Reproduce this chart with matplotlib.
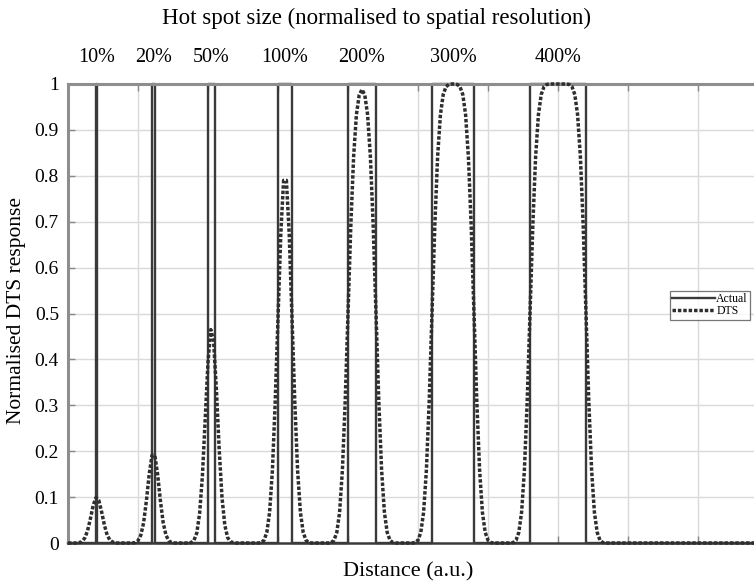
import numpy as np
import matplotlib
matplotlib.use("Agg")
import matplotlib.pyplot as plt
from matplotlib.transforms import blended_transform_factory

# ---- data ----
spot_labels = ["10%", "20%", "50%", "100%", "200%", "300%", "400%"]
spot_start = [2.0, 6.0, 10.0, 15.0, 20.0, 26.0, 33.0]
spot_end = [2.1, 6.2, 10.5, 16.0, 22.0, 29.0, 37.0]
x_min, x_max = 0.0, 49.0

# DTS response read per hot spot, sampled every 0.2 a.u. starting at dts_start
dts_step = 0.2
dts_start = [0.4, 4.4, 8.4, 13.4, 18.4, 24.4, 31.4]
dts_10 = [0.0, 0.0, 0.001, 0.003, 0.011, 0.027, 0.053, 0.082, 0.099, 0.093, 0.068, 0.039, 0.017, 0.006, 0.002, 0.0, 0.0]
dts_20 = [0.0, 0.0, 0.001, 0.005, 0.017, 0.044, 0.092, 0.15, 0.191, 0.191, 0.15, 0.092, 0.044, 0.017, 0.005, 0.001, 0.0, 0.0]
dts_50 = [0.0, 0.0, 0.001, 0.006, 0.022, 0.064, 0.146, 0.268, 0.394, 0.465, 0.44, 0.334, 0.204, 0.099, 0.039, 0.012, 0.003, 0.001, 0.0]
dts_100 = [0.0, 0.0, 0.001, 0.006, 0.023, 0.067, 0.158, 0.307, 0.494, 0.674, 0.79, 0.79, 0.674, 0.494, 0.307, 0.158, 0.067, 0.023, 0.006, 0.001, 0.0, 0.0]
dts_200 = [0.0, 0.0, 0.001, 0.006, 0.023, 0.067, 0.159, 0.309, 0.5, 0.691, 0.841, 0.933, 0.976, 0.988, 0.976, 0.933, 0.841, 0.691, 0.5, 0.309, 0.159, 0.067, 0.023, 0.006, 0.001, 0.0, 0.0]
dts_300 = [0.0, 0.0, 0.001, 0.006, 0.023, 0.067, 0.159, 0.309, 0.5, 0.691, 0.841, 0.933, 0.977, 0.994, 0.999, 1.0, 1.0, 0.999, 0.994, 0.977, 0.933, 0.841, 0.691, 0.5, 0.309, 0.159, 0.067, 0.023, 0.006, 0.001, 0.0, 0.0]
dts_400 = [0.0, 0.0, 0.001, 0.006, 0.023, 0.067, 0.159, 0.309, 0.5, 0.691, 0.841, 0.933, 0.977, 0.994, 0.999, 1.0, 1.0, 1.0, 1.0, 1.0, 1.0, 1.0, 0.999, 0.994, 0.977, 0.933, 0.841, 0.691, 0.5, 0.309, 0.159, 0.067, 0.023, 0.006, 0.001, 0.0, 0.0]
dts_profiles = [dts_10, dts_20, dts_50, dts_100, dts_200, dts_300, dts_400]

y_ticks = [0, 0.1, 0.2, 0.3, 0.4, 0.5, 0.6, 0.7, 0.8, 0.9, 1]
y_tick_labels = ["0", "0.1", "0.2", "0.3", "0.4", "0.5", "0.6", "0.7", "0.8", "0.9", "1"]
x_grid = [5, 10, 15, 20, 25, 30, 35, 40, 45]

# ---- build series ----
act_x, act_y = [x_min], [0.0]
for a, b in zip(spot_start, spot_end):
    act_x += [a, a, b, b]
    act_y += [0.0, 1.0, 1.0, 0.0]
act_x.append(x_max); act_y.append(0.0)

dts_x, dts_y = [x_min], [0.0]
for s, prof in zip(dts_start, dts_profiles):
    dts_x += list(s + dts_step * np.arange(len(prof)))
    dts_y += prof
dts_x.append(x_max); dts_y.append(0.0)

# ---- plot ----
plt.rcParams['font.family'] = ['Liberation Serif', 'DejaVu Serif']
W, H = 754, 586
fig = plt.figure(figsize=(W / 100, H / 100), dpi=100)
ax = fig.add_axes([68 / W, 43 / H, 1 - 68 / W, 459 / H])

ax.set_xlim(x_min, x_max)
ax.set_ylim(0, 1)
ax.set_xticks(x_grid)
ax.set_xticklabels([])
ax.set_yticks(y_ticks)
ax.set_yticklabels(y_tick_labels, fontsize=14)
ax.grid(True, color='#dadada', lw=1.0)
ax.set_axisbelow(True)
ax.tick_params(axis='both', direction='in', length=5, width=1, color='#888888', top=True, pad=6.5)
for side in ['left', 'top']:
    ax.spines[side].set_color('#8e8e8e')
    ax.spines[side].set_linewidth(2.2)
ax.spines['bottom'].set_color('#3a3a3a')
ax.spines['bottom'].set_linewidth(1.8)
ax.spines['right'].set_visible(False)

ax.plot(dts_x, dts_y, color='#2e2e2e', lw=2.5, linestyle=(0, (1.0, 0.55)),
        dash_capstyle='butt', label='DTS', clip_on=False, zorder=3)
ax.plot(act_x, act_y, color='#3a3a3a', lw=1.7, label='Actual', clip_on=False, zorder=2.4)

handles, labs = ax.get_legend_handles_labels()
leg = fig.legend(handles[::-1], labs[::-1], loc='upper right',
                 bbox_to_anchor=(750 / W, 1 - 291 / H), bbox_transform=fig.transFigure,
                 fontsize=8.5, frameon=True, fancybox=False, handlelength=3.6,
                 handletextpad=0.1, borderpad=0.2, labelspacing=0.0, borderaxespad=0)
leg.get_frame().set_edgecolor('#555555')
leg.get_frame().set_linewidth(0.9)

tr = blended_transform_factory(ax.transData, fig.transFigure)
for lab, a, b in zip(spot_labels, spot_start, spot_end):
    ax.text((a + b) / 2, 1 - 57 / H, lab, transform=tr, ha='center', va='center', fontsize=14.5)

fig.text(0.5, 1 - 18 / H, "Hot spot size (normalised to spatial resolution)",
         ha='center', va='center', fontsize=16.5)
fig.text(408 / W, 1 - 572 / H, "Distance (a.u.)", ha='center', va='center', fontsize=16)
fig.text(17 / W, 1 - 311 / H, "Normalised DTS response", ha='center', va='center',
         rotation=90, fontsize=15.5)

fig.savefig("out.png", dpi=100)
